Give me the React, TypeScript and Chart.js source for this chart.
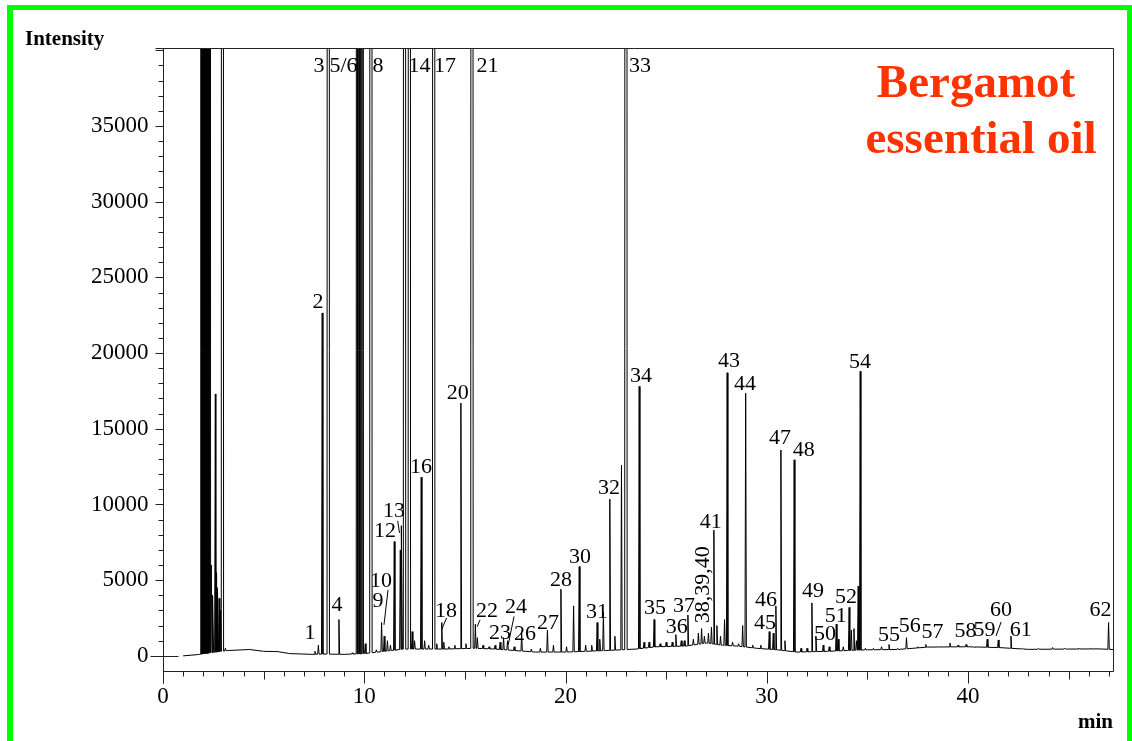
import React, { useEffect, useRef } from "react";
import { Chart, registerables } from "chart.js";

Chart.register(...registerables);

// ---------- data ----------
// retention time (min) and apex intensity of each peak (very tall ones are off-scale)
const OFF = 400000;
const peakTimes = [
  1.88, 1.92, 1.96, 2.0, 2.04, 2.08, 2.12, 2.16, 2.2, 2.25, 2.31, 2.4, 2.48, 2.6, 2.66, 2.72, 2.79, 2.86, 2.95, 3.1,
  7.55, 7.72, 7.91, 8.21, 8.74, 9.4, 9.66, 9.72, 9.78, 9.84, 9.9, 10.05, 10.33, 10.6, 10.86, 10.99, 11.15, 11.3,
  11.49, 11.79, 11.86, 12.0, 12.24, 12.38, 12.5, 12.83, 13.0, 13.2, 13.45, 13.6, 13.85, 13.95, 14.2, 14.5, 14.8,
  15.05, 15.35, 15.52, 15.62, 15.9, 16.2, 16.5, 16.75, 16.92, 17.12, 17.45, 17.82, 18.3, 18.75, 19.1, 19.4, 19.77,
  20.05, 20.4, 20.68, 21.0, 21.3, 21.57, 21.7, 21.88, 22.2, 22.45, 22.78, 23.0, 23.66, 23.9, 24.15, 24.4, 24.7,
  25.0, 25.3, 25.48, 25.75, 25.9, 26.08, 26.35, 26.6, 26.76, 26.9, 27.1, 27.25, 27.37, 27.52, 27.7, 27.9, 28.03,
  28.3, 28.6, 28.8, 28.95, 29.3, 29.7, 30.12, 30.32, 30.45, 30.7, 30.9, 31.36, 31.7, 32.0, 32.24, 32.44, 32.8,
  33.1, 33.45, 33.55, 33.8, 34.09, 34.2, 34.33, 34.45, 34.54, 34.64, 34.9, 35.3, 35.7, 36.07, 36.5, 36.94, 37.5,
  37.9, 38.5, 39.1, 39.5, 39.9, 40.3, 40.95, 41.5, 42.13, 42.7, 43.5, 44.2, 44.8, 45.5, 46.1, 46.98,
];
const peakHeights = [
  OFF, OFF, OFF, OFF, OFF, OFF, OFF, OFF, OFF, OFF, OFF, 6000, 4000, 17300, 5500, 4500, 3800, 3000, OFF, 500,
  300, 700, 22650, OFF, 2400, 200, OFF, OFF, OFF, OFF, OFF, 800, OFF, 400, 2200, 1300, 1000, 700,
  7550, 7000, 8600, OFF, OFF, 1600, 1000, 11800, 1000, 700, OFF, 800, 2200, 900, 600, 700, 16700,
  800, OFF, 2100, 1200, 700, 600, 700, 900, 1200, 1000, 600, 1500, 450, 500, 1700, 700, 4400,
  600, 3300, 5900, 700, 700, 2200, 1100, 2900, 10350, 1300, 12600, OFF, 17800, 900, 900, 2400, 800,
  900, 900, 1400, 1000, 1000, 2700, 1100, 1500, 1800, 1300, 1500, 1900, 8300, 2000, 1300, 2400, 18700,
  900, 800, 2000, 17350, 700, 700, 1600, 1500, 3300, 13600, 1000, 12950, 500, 500, 3500, 1300, 700,
  600, 2100, 1100, 600, 3200, 1700, 1800, 1000, 4600, 18800, 500, 500, 600, 750, 500, 1200, 600,
  750, 600, 850, 700, 750, 550, 1100, 1050, 1300, 500, 500, 550, 500, 500, 500, 2200,
];

// baseline drift between peaks
const baselineTimes = [
  1.0, 1.7, 3.2, 4.3, 5.0, 5.7, 6.3, 7.4, 8.0, 9.0, 10.0, 11.0, 12.0, 14.0, 15.5, 16.5, 18.5, 20.0, 22.0,
  23.5, 24.5, 26.0, 27.0, 27.8, 28.5, 29.5, 30.5, 31.5, 33.0, 34.0, 35.0, 36.5, 38.0, 40.0, 41.5, 43.0,
  45.0, 46.5, 47.2,
];
const baselineValues = [
  0, 80, 350, 420, 300, 280, 150, 100, 120, 100, 150, 300, 450, 450, 500, 450, 250, 250, 350,
  450, 600, 650, 850, 700, 650, 500, 400, 250, 300, 350, 400, 420, 580, 600, 550, 430,
  450, 460, 420,
];

// peak annotations
const labelTexts = [
  "1", "2", "3", "5/6", "8", "4", "9", "10", "12", "13", "14", "16", "17", "18", "20", "21", "22", "23", "24",
  "26", "27", "28", "30", "31", "32", "33", "34", "35", "36", "37", "41", "43", "44", "45", "46", "47", "48",
  "49", "50", "51", "52", "54", "55", "56", "57", "58", "59/", "60", "61", "62",
];
const labelTimes = [
  7.3, 7.7, 7.75, 8.97, 10.68, 8.64, 10.68, 10.83, 11.03, 11.48, 12.74, 12.82, 14.01, 14.06, 14.65, 16.12, 16.1,
  16.74, 17.54, 17.98, 19.13, 19.77, 20.72, 21.56, 22.16, 23.7, 23.75, 24.44, 25.53, 25.88, 27.22, 28.12, 28.91,
  29.91, 29.96, 30.65, 31.84, 32.29, 32.89, 33.43, 33.93, 34.63, 36.07, 37.1, 38.23, 39.87, 40.97, 41.63, 42.62,
  46.58,
];
const labelIntensities = [
  1520, 23380, 38970, 38970, 38970, 3370, 3630, 4950, 8260, 9580, 38970, 12480, 38970, 2970, 17370, 38970, 2970,
  1520, 3240, 1450, 2180, 5020, 6540, 2910, 11100, 38970, 18490, 3170, 1920, 3300, 8850, 19480, 17970,
  2180, 3700, 14400, 13610, 4290, 1450, 2640, 3900, 19420, 1390, 1940, 1590, 1600, 1720, 3040, 1720,
  3040,
];
const rotatedLabelText = "38,39,40";
const rotatedLabelTime = 26.83;
const rotatedLabelIntensity = 4690;

// short leader strokes from labels to peaks
const leaderFromTimes = [11.18, 11.66, 14.09, 15.75, 17.44];
const leaderFromIntensities = [4360, 8920, 2510, 2380, 2600];
const leaderToTimes = [10.98, 11.75, 13.84, 15.61, 17.15];
const leaderToIntensities = [2050, 8120, 1720, 1920, 730];

// axes
const xMin = 0;
const xMax = 47.2;
const yMin = -1000;
const yMax = 40150;
const xLabelStep = 10;
const yLabelStep = 5000;
const yMinorStep = 1000;
const yTickValues = [0, 5000, 10000, 15000, 20000, 25000, 30000, 35000];

const SERIF = "'Liberation Serif', 'Times New Roman', serif";

function baselineAt(t: number): number {
  if (t <= baselineTimes[0]) return baselineValues[0];
  for (let i = 1; i < baselineTimes.length; i++) {
    if (t <= baselineTimes[i]) {
      const t0 = baselineTimes[i - 1];
      const t1 = baselineTimes[i];
      const f = (t - t0) / (t1 - t0);
      return baselineValues[i - 1] + f * (baselineValues[i] - baselineValues[i - 1]);
    }
  }
  return baselineValues[baselineValues.length - 1];
}

function halfWidth(h: number): number {
  return h > yMax ? 0.06 : 0.035;
}

function buildTrace() {
  const pts: { x: number; y: number }[] = [];
  baselineTimes.forEach((t, i) => {
    const inside = peakTimes.some((p, j) => Math.abs(t - p) < halfWidth(peakHeights[j]) + 0.01);
    if (!inside) pts.push({ x: t, y: baselineValues[i] });
  });
  peakTimes.forEach((t, i) => {
    const h = peakHeights[i];
    const w = halfWidth(h);
    pts.push({ x: t - w, y: baselineAt(t - w) });
    pts.push({ x: t, y: h });
    pts.push({ x: t + w, y: baselineAt(t + w) });
  });
  pts.sort((a, b) => a.x - b.x);
  return pts;
}

const framePlugin = {
  id: "frame",
  beforeDraw(chart: any) {
    const ctx = chart.ctx;
    ctx.save();
    ctx.fillStyle = "#ffffff";
    ctx.fillRect(0, 0, chart.width, chart.height);
    ctx.fillStyle = "#00ff00";
    ctx.fillRect(7, 5, chart.width - 7, 5);
    ctx.fillRect(7, 5, 6, chart.height - 5);
    ctx.fillRect(chart.width - 5, 5, 5, chart.height - 5);
    ctx.restore();
  },
  afterDraw(chart: any) {
    const ctx = chart.ctx;
    const xs = chart.scales.x;
    const ys = chart.scales.y;
    const { left, right, top, bottom } = chart.chartArea;
    const L = Math.round(left) + 0.5;
    const R = Math.round(right) + 0.5;
    const T = Math.round(top) + 0.5;
    const B = Math.round(bottom) + 0.5;
    ctx.save();
    ctx.lineWidth = 1;
    ctx.strokeStyle = "#222";
    ctx.beginPath();
    ctx.moveTo(L - 8, T);
    ctx.lineTo(R, T);
    ctx.moveTo(R, T);
    ctx.lineTo(R, B);
    ctx.moveTo(L, T);
    ctx.lineTo(L, B + 12);
    ctx.moveTo(L, B);
    ctx.lineTo(R, B);
    ctx.stroke();

    // y ticks (minor every 1000, major every 5000)
    ctx.beginPath();
    for (let v = 0; v <= yMax; v += yMinorStep) {
      const y = Math.round(ys.getPixelForValue(v)) + 0.5;
      if (v === 0) {
        ctx.moveTo(L - 13, y);
        ctx.lineTo(L + 15, y);
      } else if (v % yLabelStep === 0) {
        ctx.moveTo(L - 8, y);
        ctx.lineTo(L, y);
      } else {
        ctx.moveTo(L - 5, y);
        ctx.lineTo(L, y);
      }
    }
    // x ticks (every minute, longer at 5 and 10)
    for (let t = Math.ceil(xMin); t <= xMax; t += 1) {
      const x = Math.round(xs.getPixelForValue(t)) + 0.5;
      const len = t % xLabelStep === 0 ? 12 : t % 5 === 0 ? 8 : 5;
      ctx.moveTo(x, B);
      ctx.lineTo(x, B + len);
    }
    ctx.stroke();

    // y tick labels
    ctx.fillStyle = "#000000";
    ctx.font = `23px ${SERIF}`;
    ctx.textAlign = "right";
    ctx.textBaseline = "middle";
    yTickValues.forEach((v) => {
      ctx.fillText(String(v), L - 15, ys.getPixelForValue(v));
    });

    // peak labels
    ctx.font = `22px ${SERIF}`;
    ctx.textAlign = "center";
    ctx.textBaseline = "middle";
    labelTexts.forEach((txt, i) => {
      ctx.fillText(txt, xs.getPixelForValue(labelTimes[i]), ys.getPixelForValue(labelIntensities[i]));
    });
    ctx.save();
    ctx.translate(xs.getPixelForValue(rotatedLabelTime), ys.getPixelForValue(rotatedLabelIntensity));
    ctx.rotate(-Math.PI / 2);
    ctx.fillText(rotatedLabelText, 0, 0);
    ctx.restore();

    // leader strokes
    ctx.strokeStyle = "#000";
    ctx.beginPath();
    leaderFromTimes.forEach((t, i) => {
      ctx.moveTo(xs.getPixelForValue(t), ys.getPixelForValue(leaderFromIntensities[i]));
      ctx.lineTo(xs.getPixelForValue(leaderToTimes[i]), ys.getPixelForValue(leaderToIntensities[i]));
    });
    ctx.stroke();

    // axis caption and title
    ctx.textAlign = "left";
    ctx.textBaseline = "alphabetic";
    ctx.font = `bold 21px ${SERIF}`;
    ctx.fillText("Intensity", 25, 45);

    ctx.fillStyle = "#ff3300";
    ctx.textAlign = "center";
    ctx.font = `bold 47px ${SERIF}`;
    ctx.fillText("Bergamot", 976, 97);
    ctx.fillText("essential oil", 981, 153);
    ctx.restore();
  },
};

export default function App() {
  const ref = useRef<HTMLCanvasElement | null>(null);

  useEffect(() => {
    document.body.style.margin = "0";
    const canvas = ref.current;
    if (!canvas) return;
    const chart = new Chart(canvas, {
      type: "line",
      data: {
        datasets: [
          {
            data: buildTrace(),
            borderColor: "#000",
            borderWidth: 1,
            pointRadius: 0,
            tension: 0,
            fill: false,
            clip: 0,
          } as any,
        ],
      },
      options: {
        animation: false,
        responsive: false,
        maintainAspectRatio: false,
        parsing: false,
        layout: { padding: { left: 0, right: 19, top: 48, bottom: 0 } },
        plugins: {
          legend: { display: false },
          tooltip: { enabled: false },
          title: { display: false },
        },
        scales: {
          x: {
            type: "linear",
            min: xMin,
            max: xMax,
            position: "bottom",
            grid: { display: false, drawTicks: false },
            border: { display: false },
            ticks: {
              stepSize: 1,
              autoSkip: false,
              maxRotation: 0,
              padding: 12,
              color: "#000",
              font: { family: SERIF, size: 23 },
              callback: (v: any) => (Number(v) % xLabelStep === 0 ? String(v) : ""),
            },
            title: {
              display: true,
              text: "min",
              align: "end",
              color: "#000",
              font: { family: SERIF, size: 21, weight: "bold" },
              padding: { top: 0, bottom: 6 },
            },
            afterFit: (s: any) => {
              s.height = 70;
            },
          },
          y: {
            type: "linear",
            min: yMin,
            max: yMax,
            grid: { display: false, drawTicks: false },
            border: { display: false },
            ticks: { display: false },
            afterFit: (s: any) => {
              s.width = 163;
            },
          },
        },
      } as any,
      plugins: [framePlugin],
    });
    return () => chart.destroy();
  }, []);

  return <canvas ref={ref} width={1132} height={741} style={{ display: "block" }} />;
}
